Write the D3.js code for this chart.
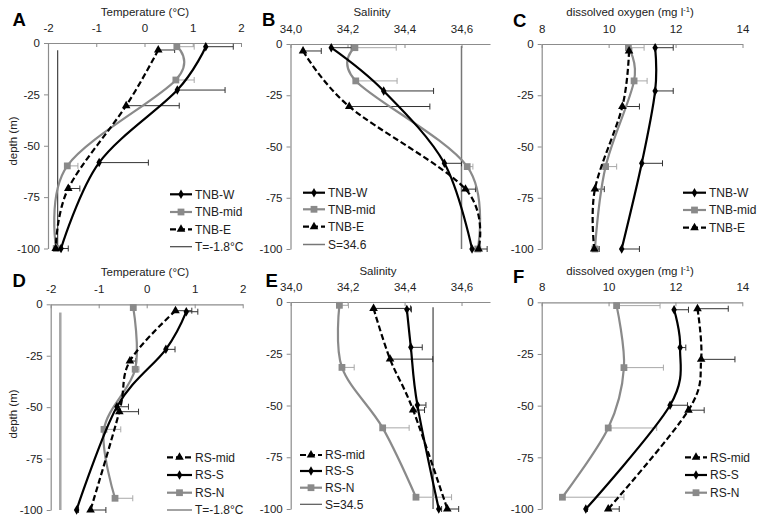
<!DOCTYPE html>
<html><head><meta charset="utf-8">
<script src="https://cdn.jsdelivr.net/npm/d3@7"></script>
<style>
body{margin:0;background:#fff;}
text{font-family:"Liberation Sans",Arial,sans-serif;}
</style></head>
<body><svg id="c" width="759" height="520"></svg>
<script>
// ---------- data ----------
const depthTicks = [0, -25, -50, -75, -100];
const tempTicks = [-2, -1, 0, 1, 2];
const salTicks = [34.0, 34.2, 34.4, 34.6];
const salTickLabels = ["34,0", "34,2", "34,4", "34,6"];
const oxyTicks = [8, 10, 12, 14];

// Terra Nova Bay (top row)
const tnbWDepth   = [-1.8, -22.9, -58.2, -100];
const tnbMidDepth = [-1.8, -18.0, -59.8, -100];
const tnbEDepth   = [-3.4, -30.5, -70.8, -100];
const tnbWTemp   = [1.27, 0.68, -0.94, -1.73];
const tnbWTempErr = [0.57, 0.99, 1.02, 0.15];
const tnbMidTemp = [0.67, 0.65, -1.60, -1.83];
const tnbMidTempErr = [0.36, 0.38, 0.22, 0.04];
const tnbETemp   = [0.285, -0.38, -1.58, -1.84];
const tnbETempErr = [0.34, 1.10, 0.24, 0.04];

const tnbWSal   = [34.143, 34.327, 34.540, 34.637];
const tnbWSalErr = [0.07, 0.175, 0.06, 0.02];
const tnbMidSal = [34.226, 34.229, 34.620, 34.657];
const tnbMidSalErr = [0.145, 0.145, 0.02, 0.01];
const tnbESal   = [34.044, 34.206, 34.614, 34.660];
const tnbESalErr = [0.064, 0.283, 0.035, 0.03];

const tnbWOxy   = [11.39, 11.39, 10.99, 10.39];
const tnbWOxyErr = [0.54, 0.54, 0.62, 0.53];
const tnbMidOxy = [10.59, 10.76, 9.91, 9.59];
const tnbMidOxyErr = [0.47, 0.39, 0.33, 0.10];
const tnbEOxy   = [10.61, 10.41, 9.59, 9.57];
const tnbEOxyErr = [0.08, 0.51, 0.28, 0.15];

// Ross Sea (bottom row)
const rsMidDepth = [-3.1, -27.6, -52.2, -100];
const rsSDepth   = [-3.6, -21.9, -49.8, -100];
const rsNDepth   = [-1.6, -31.6, -60.8, -94.3];
const rsMidTemp = [0.60, -0.35, -0.57, -1.17];
const rsMidTempErr = [0.34, 0.12, 0.40, 0.32];
const rsSTemp   = [0.825, 0.40, -0.62, -1.46];
const rsSTempErr = [0.24, 0.19, 0.24, 0.04];
const rsNTemp   = [-0.28, -0.24, -0.89, -0.66];
const rsNTempErr = [0.05, 0.08, 0.35, 0.37];

const rsMidSal = [34.291, 34.349, 34.430, 34.550];
const rsMidSalErr = [0.13, 0.15, 0.04, 0.04];
const rsSSal   = [34.408, 34.422, 34.445, 34.520];
const rsSSalErr = [0.016, 0.04, 0.03, 0.01];
const rsNSal   = [34.171, 34.180, 34.323, 34.440];
const rsNSalErr = [0.032, 0.043, 0.093, 0.125];

const rsMidOxy = [12.66, 12.77, 12.39, 9.99];
const rsMidOxyErr = [0.92, 1.01, 0.47, 0.33];
const rsSOxy   = [11.96, 12.14, 11.84, 9.32];
const rsSOxyErr = [0.43, 0.17, 0.52, 0.05];
const rsNOxy   = [10.24, 10.46, 9.99, 8.62];
const rsNOxyErr = [1.30, 1.18, 1.45, 1.84];

const tnbNames = ["TNB-W", "TNB-mid", "TNB-E"];
const rsNames = ["RS-mid", "RS-S", "RS-N"];

// ---------- styles ----------
const STY = {
  W:   {color:"#000", dash:null, sym:d3.symbolDiamond, size:26, err:"#333"},
  S:   {color:"#000", dash:null, sym:d3.symbolDiamond, size:26, err:"#333"},
  mid: {color:"#8a8a8a", dash:null, sym:d3.symbolSquare, size:46, err:"#a8a8a8"},
  N:   {color:"#8a8a8a", dash:null, sym:d3.symbolSquare, size:46, err:"#a8a8a8"},
  E:   {color:"#000", dash:"6,3", sym:d3.symbolTriangle, size:32, err:"#333"},
  rmid:{color:"#000", dash:"6,3", sym:d3.symbolTriangle, size:32, err:"#333"}
};

function ser(name, st, depth, vals, errs){
  return {name, st, pts: depth.map((d,i)=>({d, v:vals[i], e:errs[i]}))};
}

const panels = [
  {letter:"A", lp:[12.5,26], title:"Temperature (°C)", tp:[145,16], depthLabel:[13,141],
   box:{l:48,r:241,t:43,b:248.5}, dom:[-2,2], ticks:tempTicks, labels:tempTicks.map(String),
   series:[ser(tnbNames[1],STY.mid,tnbMidDepth,tnbMidTemp,tnbMidTempErr),
           ser(tnbNames[2],STY.E,tnbEDepth,tnbETemp,tnbETempErr),
           ser(tnbNames[0],STY.W,tnbWDepth,tnbWTemp,tnbWTempErr)],
   legendOrder:[2,0,1], thr:{v:-1.8,top:-3.5,label:"T=-1.8°C",color:"#444",w:1.2,lcolor:"#444",lw:1.2},
   leg:{x1:170,x2:192,tx:195,ys:[194.3,212,229.3,246.7]}},
  {letter:"B", lp:[262,26], title:"Salinity", tp:[372,16],
   box:{l:290.5,r:490,t:44,b:249}, dom:[34.0,34.7], ticks:salTicks, labels:salTickLabels,
   series:[ser(tnbNames[1],STY.mid,tnbMidDepth,tnbMidSal,tnbMidSalErr),
           ser(tnbNames[2],STY.E,tnbEDepth,tnbESal,tnbESalErr),
           ser(tnbNames[0],STY.W,tnbWDepth,tnbWSal,tnbWSalErr)],
   legendOrder:[2,0,1], thr:{v:34.6,top:-1,label:"S=34.6",color:"#777",w:1.5,lcolor:"#777",lw:1.5},
   leg:{x1:303,x2:325,tx:328,ys:[192.7,209.3,226.7,244.5]}},
  {letter:"C", lp:[513,27], title:"dissolved oxygen (mg l", sup:"-1", titleEnd:")", tp:[630,16],
   box:{l:541.7,r:742.5,t:44,b:249}, dom:[8,14], ticks:oxyTicks, labels:oxyTicks.map(String),
   series:[ser(tnbNames[1],STY.mid,tnbMidDepth,tnbMidOxy,tnbMidOxyErr),
           ser(tnbNames[2],STY.E,tnbEDepth,tnbEOxy,tnbEOxyErr),
           ser(tnbNames[0],STY.W,tnbWDepth,tnbWOxy,tnbWOxyErr)],
   legendOrder:[2,0,1], thr:null,
   leg:{x1:683,x2:706,tx:709,ys:[192.7,210,227.7]}},
  {letter:"D", lp:[12.5,287], title:"Temperature (°C)", tp:[145,276], depthLabel:[13,414],
   box:{l:50.7,r:242.7,t:304.3,b:510}, dom:[-2,2], ticks:tempTicks, labels:tempTicks.map(String),
   series:[ser(rsNames[2],STY.N,rsNDepth,rsNTemp,rsNTempErr),
           ser(rsNames[0],STY.rmid,rsMidDepth,rsMidTemp,rsMidTempErr),
           ser(rsNames[1],STY.S,rsSDepth,rsSTemp,rsSTempErr)],
   legendOrder:[1,2,0], thr:{v:-1.8,top:-4,label:"T=-1.8°C",color:"#a6a6a6",w:2.5,lcolor:"#666",lw:1.2},
   leg:{x1:167,x2:192,tx:195,ys:[457.3,475,492.7,510]}},
  {letter:"E", lp:[265.5,287], title:"Salinity", tp:[378,275],
   box:{l:290.7,r:490,t:302,b:509}, dom:[34.0,34.7], ticks:salTicks, labels:salTickLabels,
   series:[ser(rsNames[2],STY.N,rsNDepth,rsNSal,rsNSalErr),
           ser(rsNames[0],STY.rmid,rsMidDepth,rsMidSal,rsMidSalErr),
           ser(rsNames[1],STY.S,rsSDepth,rsSSal,rsSSalErr)],
   legendOrder:[1,2,0], thr:{v:34.5,top:-2.5,label:"S=34.5",color:"#444",w:1.2,lcolor:"#555",lw:1.2},
   leg:{x1:300,x2:322,tx:325,ys:[455,471,487.7,504.3]}},
  {letter:"F", lp:[513,283], title:"dissolved oxygen (mg l", sup:"-1", titleEnd:")", tp:[630,275],
   box:{l:541.7,r:742.3,t:302.3,b:509}, dom:[8,14], ticks:oxyTicks, labels:oxyTicks.map(String),
   series:[ser(rsNames[2],STY.N,rsNDepth,rsNOxy,rsNOxyErr),
           ser(rsNames[0],STY.rmid,rsMidDepth,rsMidOxy,rsMidOxyErr),
           ser(rsNames[1],STY.S,rsSDepth,rsSOxy,rsSOxyErr)],
   legendOrder:[1,2,0], thr:null,
   leg:{x1:685,x2:707,tx:710,ys:[457.3,475,492.7]}}
];

const svg = d3.select("#c");
svg.append("rect").attr("width",759).attr("height",520).attr("fill","#fff");

panels.forEach(p=>{
  const g = svg.append("g");
  const x = d3.scaleLinear().domain(p.dom).range([p.box.l,p.box.r]);
  const y = d3.scaleLinear().domain([-100,0]).range([p.box.b,p.box.t]);

  // axes
  const xa = g.append("g").attr("transform",`translate(0,${p.box.t})`)
    .call(d3.axisTop(x).tickValues(p.ticks).tickFormat((d,i)=>p.labels[i])
      .tickSizeInner(-4).tickSizeOuter(0).tickPadding(11));
  const ya = g.append("g").attr("transform",`translate(${p.box.l},0)`)
    .call(d3.axisLeft(y).tickValues(depthTicks).tickFormat(d3.format("d"))
      .tickSizeInner(4).tickSizeOuter(0).tickPadding(4));
  [xa,ya].forEach(a=>{
    a.select(".domain").attr("stroke","#8c8c8c").attr("stroke-width",1.2);
    a.selectAll(".tick line").attr("stroke","#8c8c8c");
    a.selectAll(".tick text").attr("fill","#222").attr("font-size",11.5)
      .attr("font-family","Liberation Sans, Arial, sans-serif");
  });
  ya.selectAll(".tick text").text(d=> d===0 ? "0" : String(d));

  // title
  const t = g.append("text").attr("x",p.tp[0]).attr("y",p.tp[1]).attr("text-anchor","middle")
    .attr("font-size",11.5).attr("fill","#222").text(p.title);
  if(p.sup){
    t.append("tspan").attr("font-size",7.5).attr("dy",-4).text(p.sup);
    t.append("tspan").attr("font-size",11.5).attr("dy",4).text(p.titleEnd);
  }
  g.append("text").attr("x",p.lp[0]).attr("y",p.lp[1]).attr("font-size",18.5)
    .attr("font-weight","bold").attr("fill","#000").text(p.letter);
  if(p.depthLabel){
    g.append("text").attr("transform",`translate(${p.depthLabel[0]},${p.depthLabel[1]}) rotate(-90)`)
      .attr("text-anchor","middle").attr("dy","0.35em").attr("font-size",11.5).attr("fill","#222")
      .text("depth (m)");
  }

  // threshold line
  if(p.thr){
    g.append("line").attr("x1",x(p.thr.v)).attr("x2",x(p.thr.v))
      .attr("y1",y(p.thr.top)).attr("y2",y(-100))
      .attr("stroke",p.thr.color).attr("stroke-width",p.thr.w);
  }

  const line = d3.line().x(d=>x(d.v)).y(d=>y(d.d)).curve(d3.curveCardinal.tension(0));

  p.series.forEach(s=>{
    const eg = g.append("g");
    s.pts.forEach(pt=>{
      const x0 = x(pt.v), x1 = x(pt.v+pt.e), yy = y(pt.d);
      eg.append("line").attr("x1",x0).attr("x2",x1).attr("y1",yy).attr("y2",yy)
        .attr("stroke",s.st.err).attr("stroke-width",1);
      eg.append("line").attr("x1",x1).attr("x2",x1).attr("y1",yy-3).attr("y2",yy+3)
        .attr("stroke",s.st.err).attr("stroke-width",1);
    });
  });
  p.series.forEach(s=>{
    g.append("path").datum(s.pts).attr("d",line).attr("fill","none")
      .attr("stroke",s.st.color).attr("stroke-width",2.2)
      .attr("stroke-dasharray",s.st.dash);
    g.selectAll(null).data(s.pts).enter().append("path")
      .attr("transform",d=>`translate(${x(d.v)},${y(d.d)})`)
      .attr("d",d3.symbol().type(s.st.sym).size(s.st.size))
      .attr("fill",s.st.color);
  });

  // legend
  const L = p.leg;
  p.legendOrder.forEach((si,i)=>{
    const s = p.series[si], yy = L.ys[i];
    g.append("line").attr("x1",L.x1).attr("x2",L.x2).attr("y1",yy).attr("y2",yy)
      .attr("stroke",s.st.color).attr("stroke-width",2.2).attr("stroke-dasharray",s.st.dash);
    g.append("path").attr("transform",`translate(${(L.x1+L.x2)/2},${yy})`)
      .attr("d",d3.symbol().type(s.st.sym).size(s.st.size)).attr("fill",s.st.color);
    g.append("text").attr("x",L.tx).attr("y",yy).attr("dy","0.35em").attr("font-size",12)
      .attr("fill","#222").text(s.name);
  });
  if(p.thr){
    const yy = L.ys[3];
    g.append("line").attr("x1",L.x1).attr("x2",L.x2).attr("y1",yy).attr("y2",yy)
      .attr("stroke",p.thr.lcolor).attr("stroke-width",p.thr.lw);
    g.append("text").attr("x",L.tx).attr("y",yy).attr("dy","0.35em").attr("font-size",12)
      .attr("fill","#222").text(p.thr.label);
  }
});
</script></body></html>
